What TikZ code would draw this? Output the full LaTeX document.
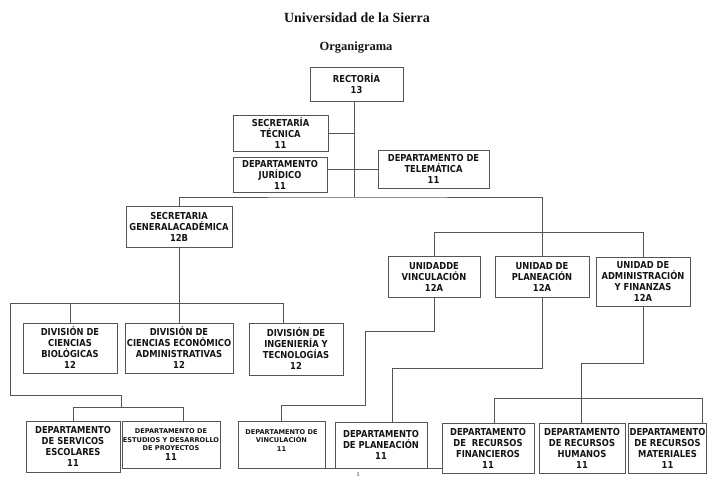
\documentclass[tikz,border=0pt]{standalone}
\usepackage{fontspec}
\setmainfont{Liberation Serif}
\newfontfamily\unitfont{DejaVu Sans}[FakeStretch=0.87]
\newfontfamily\smallunitfont{DejaVu Sans}
\newcommand\boxtxt{\unitfont\bfseries\fontsize{9.6}{11}\selectfont}
\newcommand\smalltxt{\smallunitfont\bfseries\fontsize{6.6}{8.6}\selectfont}
\definecolor{ink}{HTML}{141414}
\definecolor{rule}{HTML}{555555}

\begin{document}
\begin{tikzpicture}[
  x=1pt, y=-1pt,
  unit/.style={draw=rule, line width=0.7pt, text=ink, align=center, inner sep=1pt, font=\boxtxt},
  lnk/.style={draw=rule, line width=0.55pt},
]
\useasboundingbox (0,0) rectangle (708,479);

\node [text=ink] (title) at (357,18) {\bfseries\fontsize{14}{16}\selectfont Universidad de la Sierra};
\node [text=ink] (subtitle) at (356,48) {\bfseries\fontsize{12.5}{14}\selectfont Organigrama};
\node [text=ink] (page) at (358,475) {\fontsize{6}{7}\selectfont 1};

% top level
\node [unit, minimum width=93, minimum height=34] (rect) at (356.5,84) {RECTORÍA\\13};
\node [unit, minimum width=95, minimum height=36] (sect) at (280.5,133) {SECRETARÍA\\TÉCNICA\\11};
\node [unit, minimum width=94, minimum height=35] (jur) at (280,174.5) {DEPARTAMENTO\\JURÍDICO\\11};
\node [unit, minimum width=111, minimum height=38] (tel) at (433.5,169) {DEPARTAMENTO DE\\TELEMÁTICA\\11};
\node [unit, minimum width=106, minimum height=41] (sga) at (179,226.5) {SECRETARIA\\GENERALACADÉMICA\\12B};

% unidades
\node [unit, minimum width=92, minimum height=41] (uv) at (434,276.5) {UNIDADDE\\VINCULACIÓN\\12A};
\node [unit, minimum width=94, minimum height=41] (up) at (542,276.5) {UNIDAD DE\\PLANEACIÓN\\12A};
\node [unit, minimum width=94, minimum height=49] (ua) at (643,281.5) {UNIDAD DE\\ADMINISTRACIÓN\\Y FINANZAS\\12A};

% divisiones
\node [unit, minimum width=94, minimum height=50] (dcb) at (70,348) {DIVISIÓN DE\\CIENCIAS\\BIOLÓGICAS\\12};
\node [unit, minimum width=108, minimum height=50] (dcea) at (179,348) {DIVISIÓN DE\\CIENCIAS ECONÓMICO\\ADMINISTRATIVAS\\12};
\node [unit, minimum width=94, minimum height=52] (dit) at (296,349) {DIVISIÓN DE\\INGENIERÍA Y\\TECNOLOGÍAS\\12};

% departamentos
\node [unit, minimum width=94, minimum height=51] (dse) at (73,446.5) {DEPARTAMENTO\\DE SERVICOS\\ESCOLARES\\11};
\node [unit, font=\smalltxt, minimum width=97, minimum height=47] (dedp) at (171,444.5) {DEPARTAMENTO DE\\ESTUDIOS Y DESARROLLO\\DE PROYECTOS\\[1pt]\boxtxt 11};
\node [unit, font=\smalltxt, minimum width=87, minimum height=47] (dv) at (281.5,444.5) {DEPARTAMENTO DE\\VINCULACIÓN\\11\\~};
\node [unit, minimum width=92, minimum height=46] (dp) at (381,445) {DEPARTAMENTO\\DE PLANEACIÓN\\11};
\node [unit, minimum width=92, minimum height=50] (drf) at (488,448) {DEPARTAMENTO\\DE~~RECURSOS\\FINANCIEROS\\11};
\node [unit, minimum width=86, minimum height=50] (drh) at (582,448) {DEPARTAMENTO\\DE RECURSOS\\HUMANOS\\11};
\node [unit, minimum width=78, minimum height=50] (drm) at (667.5,448) {DEPARTAMENTO\\DE RECURSOS\\MATERIALES\\11};

% connectors
\coordinate (hub) at (354,197);
\coordinate (ubar) at (0,232);
\coordinate (dbar) at (10,303);
\coordinate (dbarR) at (283,303);
\coordinate (sbarR) at (183,407);
\coordinate (pj) at (392,368);
\coordinate (fj) at (581,363);
\coordinate (fbarL) at (494,398);
\coordinate (fbarR) at (702,398);

\draw [lnk] (rect.south -| hub) -- (hub);
\draw [lnk] (sect.east) -- (sect.east -| hub);
\draw [lnk] (jur.east |- tel.west) -- (tel.west);
\draw [lnk] (sga.north) |- (hub) -| (up.north);
\draw [lnk] (uv.north) |- (ubar -| ua.north) -- (ua.north);

\draw [lnk] (sga.south) -- (dcea.north);
\draw [lnk] (dcb.north) -- (dcb.north |- dbar);
\draw [lnk] (dbarR |- dit.north) -- (dbarR) -- (dbar) -- (10,395) -| (121,407);
\draw [lnk] (dse.north) |- (sbarR) -- (sbarR |- dedp.north);

\draw [lnk] (uv.south) |- (365,331) -- (365,405) -| (dv.north);
\draw [lnk] (up.south) |- (pj) -- (pj |- dp.north);
\draw [lnk] (ua.south) |- (fj) -- (fj |- drh.north);
\draw [lnk] (fbarL |- drf.north) -- (fbarL) -- (fbarR) -- (fbarR |- drm.north);
\draw [lnk] (dv.south east) -- (dv.south east -| drf.south west);

\end{tikzpicture}
\end{document}
